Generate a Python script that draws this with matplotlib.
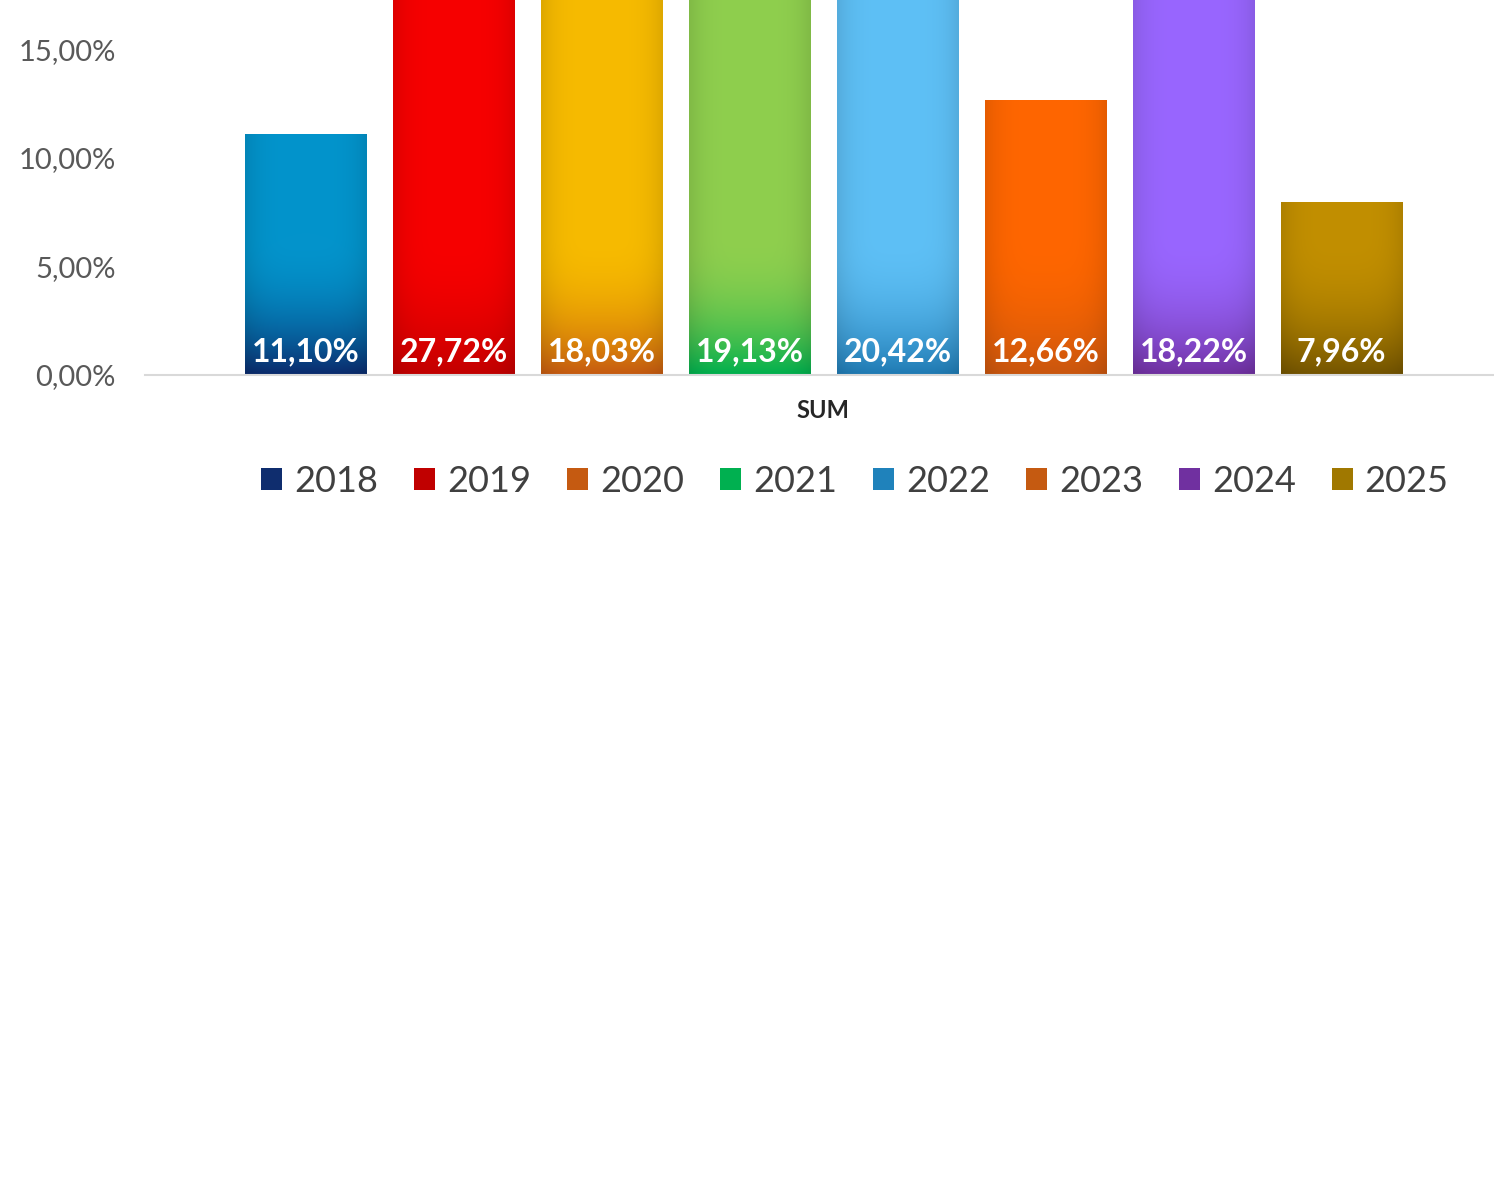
import matplotlib
matplotlib.use('Agg')
import matplotlib.pyplot as plt
import numpy as np
from matplotlib.colors import to_rgb
from matplotlib.patches import Patch

# data
years = ['2018', '2019', '2020', '2021', '2022', '2023', '2024', '2025']
values = [11.10, 27.72, 18.03, 19.13, 20.42, 12.66, 18.22, 7.96]
labels = ['11,10%', '27,72%', '18,03%', '19,13%', '20,42%', '12,66%', '18,22%', '7,96%']
top_colors = ['#0394cc', '#f70000', '#f7bb00', '#8fcf4e', '#5ec0f6', '#ff6600', '#9966ff', '#c28f00']
bottom_colors = ['#0b2a6c', '#c20000', '#c55a11', '#00b04e', '#1f7ab3', '#c8560f', '#7030a0', '#735400']
legend_colors = ['#0f2d6e', '#c00000', '#c55a11', '#00b050', '#1f82bb', '#c55a11', '#7030a0', '#a07800']
yticks = [0, 5, 10, 15]
ytick_labels = ['0,00%', '5,00%', '10,00%', '15,00%']

plt.rcParams['font.family'] = ['Lato', 'DejaVu Sans']

fig = plt.figure(figsize=(14.94, 11.99), dpi=100)
fig.patch.set_facecolor('white')
ax = fig.add_axes([0.097, 1 - 375 / 1199, 0.903, 375 / 1199])

x = np.arange(len(years))
width = 0.82
bars = ax.bar(x, values, width=width, color='none', edgecolor='none', zorder=2)


def gradient_image(c_top, c_bot, h, n=256, m=64):
    # dark band near the bottom, fading up over ~6 percentage points
    band = min(0.9, 6.5 / h)
    t = np.linspace(1, 0, n)[:, None]          # 1 at top, 0 at bottom
    w = np.clip(t / band, 0, 1)
    w = 1 - (1 - w) ** 2.2
    top = np.array(to_rgb(c_top))
    bot = np.array(to_rgb(c_bot))
    img = bot + (top - bot) * w[..., None]
    u = np.linspace(-1, 1, m)[None, :]
    shade = 1 - 0.10 * u ** 4
    img = img * shade[..., None]
    return np.clip(img, 0, 1)


for rect, ct, cb, lab in zip(bars, top_colors, bottom_colors, labels):
    x0 = rect.get_x()
    h = rect.get_height()
    img = gradient_image(ct, cb, h)
    im = ax.imshow(img, extent=[x0, x0 + width, 0, h], aspect='auto',
                   zorder=2, interpolation='bilinear')
    im.set_clip_path(rect)
    ax.text(x0 + width / 2, 1.05, lab, ha='center', va='center',
            color='white', fontsize=23, fontweight='bold', zorder=3)

ax.set_xlim(-1.088, 8.03)
ax.set_ylim(0, 17.26)
ax.set_yticks(yticks)
ax.set_yticklabels(ytick_labels)
ax.tick_params(axis='y', length=0, labelsize=21, labelcolor='#595959', pad=21)
ax.set_xticks([])
for side in ['top', 'right', 'left']:
    ax.spines[side].set_visible(False)
ax.spines['bottom'].set_color('#d9d9d9')
ax.spines['bottom'].set_linewidth(1.5)

fig.text(823 / 1494, 1 - 411 / 1199, 'SUM', ha='center', va='center',
         fontsize=17, fontweight='bold', color='#262626')

handles = [Patch(facecolor=c, edgecolor='none') for c in legend_colors]
fig.legend(handles, years, loc='center', bbox_to_anchor=(855 / 1494, 1 - 481 / 1199),
           ncol=8, frameon=False, fontsize=26, handlelength=0.58, handleheight=0.58,
           handletextpad=0.33, columnspacing=1.0, labelcolor='#404040')

fig.savefig('out.png', dpi=100, facecolor='white')
